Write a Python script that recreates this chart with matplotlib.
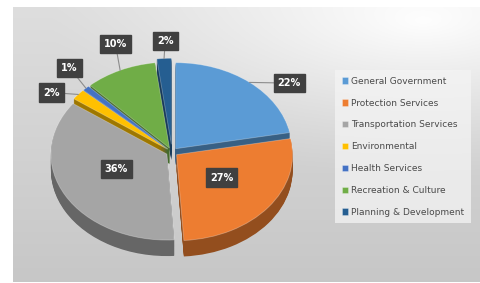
import numpy as np
import matplotlib
matplotlib.use("Agg")
import matplotlib.pyplot as plt
from matplotlib.colors import to_rgb

categories = ["General Government", "Protection Services", "Transportation Services",
              "Environmental", "Health Services", "Recreation & Culture",
              "Planning & Development"]
shares = [22, 27, 36, 2, 1, 10, 2]
pct_labels = ["22%", "27%", "36%", "2%", "1%", "10%", "2%"]

colors = ["#5b9bd5", "#ed7d31", "#a5a5a5", "#ffc000", "#4472c4", "#70ad47", "#255e91"]
explode = [0.05, 0.05, 0.05, 0.05, 0.05, 0.05, 0.09]
label_r = [1.29, 0.52, 0.52, 1.25, 1.32, 1.35, 1.29]
label_dang = [-12, 3, -6, 6, -3, -4, -1]

W, H = 480, 283
fig = plt.figure(figsize=(W / 100, H / 100), dpi=100)
fig.patch.set_facecolor("white")

# background gradient panel
bg = fig.add_axes([13 / W, 1 / H, (W - 13) / W, (H - 8) / H])
bg.set_axis_off()
yy, xx = np.mgrid[0:1:200j, 0:1:300j]
base = 0.87 - 0.09 * yy
d = np.sqrt(((xx - 0.88) * 1.0) ** 2 + ((yy - 0.05) * 1.4) ** 2)
hl = 0.13 * np.clip(1 - d / 0.8, 0, 1) ** 1.2
val = np.clip(base + hl, 0, 1)
img = np.dstack([val, val, val])
bg.imshow(img, aspect="auto", extent=[0, 1, 1, 0])
bg.set_xlim(0, 1); bg.set_ylim(1, 0)

ax = fig.add_axes([0, 0, 1, 1])
ax.set_axis_off()
cx, cy = 172, 152
rx, ry = 116, 86
xl = (-cx / rx, (W - cx) / rx)
yl = (-(H - cy) / ry, cy / ry)

def darker(c, f):
    r, g, b = to_rgb(c)
    return (r * f, g * f, b * f)

depth = 16 / ry
side_cols = [darker(c, 0.62) for c in colors]
nlayer = 18
for i in range(nlayer, 0, -1):
    off = depth * i / nlayer
    ax.pie(shares, colors=side_cols, explode=explode, startangle=90,
           counterclock=False, center=(0, -off), radius=1,
           wedgeprops=dict(linewidth=0))
wedges, _ = ax.pie(shares, colors=colors, explode=explode, startangle=90,
                   counterclock=False, center=(0, 0), radius=1,
                   wedgeprops=dict(linewidth=0.6, edgecolor=(1, 1, 1, 0.3)))
ax.set_xlim(*xl)
ax.set_ylim(*yl)
ax.set_aspect("auto")

for w, lab, r, da, ex in zip(wedges, pct_labels, label_r, label_dang, explode):
    mid = np.deg2rad((w.theta1 + w.theta2) / 2)
    ang = mid + np.deg2rad(da)
    tx, ty = r * np.cos(ang), r * np.sin(ang)
    if r > 1:
        ex0, ey0 = (1 + ex) * np.cos(mid), (1 + ex) * np.sin(mid)
        ax.plot([ex0, tx], [ey0, ty], color="#8c8c8c", lw=0.8, zorder=5)
    ax.text(tx, ty, lab, ha="center", va="center", color="white",
            fontsize=7, fontweight="bold", family="DejaVu Sans", zorder=6,
            bbox=dict(boxstyle="square,pad=0.42", fc="#404040", ec="#404040"))

# legend
leg = ax.legend(wedges, categories, loc="upper left",
                bbox_to_anchor=(335 / W, 1 - 70 / H), frameon=True,
                fontsize=6.5, handlelength=0.7, handleheight=0.7,
                handletextpad=0.35, labelspacing=1.42, borderpad=0.75,
                borderaxespad=0, labelcolor="#4a4a4a")
fr = leg.get_frame()
fr.set_facecolor("#f4f4f4"); fr.set_edgecolor("none"); fr.set_alpha(0.75)
fr.set_boxstyle("square", pad=0)

fig.savefig("out.png", dpi=100, facecolor="white")
